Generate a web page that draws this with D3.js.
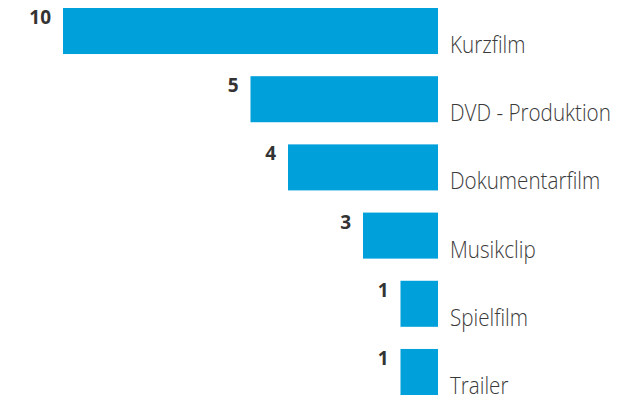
<!DOCTYPE html>
<html>
<head>
<meta charset="utf-8">
<script src="https://cdn.jsdelivr.net/npm/d3@7"></script>
<style>
  html, body { margin: 0; padding: 0; background: #fff; }
  svg { display: block; }
  .cat { font-family: "Open Sans", sans-serif; font-weight: 300; font-size: 24px; fill: #3a3a3a; }
  .val { font-family: "Open Sans", sans-serif; font-weight: 700; font-size: 19px; fill: #333; }
</style>
</head>
<body>
<div id="chart"></div>
<script>
// Kategorien und Werte (Beschriftung), von oben nach unten
const categories = ['Kurzfilm', 'DVD - Produktion', 'Dokumentarfilm', 'Musikclip', 'Spielfilm', 'Trailer'];
const values = [10, 5, 4, 3, 1, 1];
// Balkenlängen wie im Original gezeichnet (Musikclip-Balken ist dort nur 2 Einheiten lang)
const barLengths = [10, 5, 4, 2, 1, 1];

const width = 627, height = 402;
const barRight = 438;

const svg = d3.select('#chart')
  .append('svg')
  .attr('width', width)
  .attr('height', height);

const y = d3.scaleBand()
  .domain(categories)
  .range([8, 395])
  .paddingInner(0.325)
  .paddingOuter(0);

const x = d3.scaleLinear()
  .domain([0, 10])
  .range([barRight, 63]);

const rows = svg.append('g')
  .selectAll('g')
  .data(categories.map((c, i) => ({ cat: c, value: values[i], len: barLengths[i] })))
  .join('g');

// Balken
rows.append('rect')
  .attr('x', d => x(d.len))
  .attr('y', d => y(d.cat))
  .attr('width', d => barRight - x(d.len))
  .attr('height', y.bandwidth())
  .attr('fill', '#00a0da');

// Werte links vom Balken
rows.append('text')
  .attr('class', 'val')
  .attr('x', d => x(d.len) - 12)
  .attr('y', d => y(d.cat) + 16)
  .attr('text-anchor', 'end')
  .text(d => d.value);

// Kategorienamen rechts unten (schmal gestaucht wie die Originalschrift)
rows.append('text')
  .attr('class', 'cat')
  .attr('transform', d => `translate(${barRight + 12},${y(d.cat) + y.bandwidth() - 1}) scale(0.86,1)`)
  .text(d => d.cat);
</script>
</body>
</html>
